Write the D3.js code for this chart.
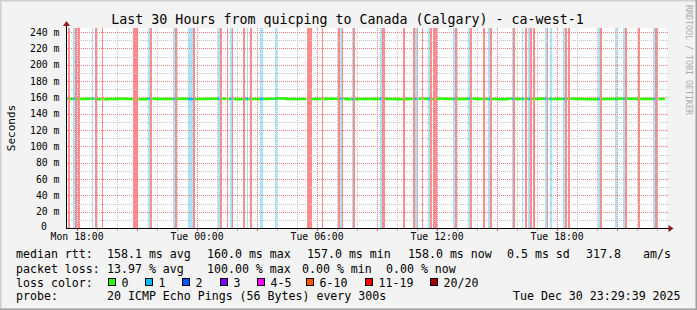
<!DOCTYPE html>
<html>
<head>
<meta charset="utf-8">
<script src="https://cdn.jsdelivr.net/npm/d3@7"></script>
<style>
  body { margin: 0; background: #f3f3f3; }
  svg { display: block; }
  text { font-family: "DejaVu Sans Mono", monospace; fill: #000; }
</style>
</head>
<body>
<svg id="chart" width="697" height="310"></svg>
<script>
// graph window, 5 minute steps
const startTime = "Mon 17:29:39";
const endTime = "Tue 23:29:39";
const firstStep = "Mon 17:30";
const stepMinutes = 5;

// loss bars: start of step, number of steps, packets lost (of 20)
const lossAt = [
  "Mon 17:35", "Mon 17:50", "Mon 17:55", "Mon 18:05", "Mon 18:45", "Mon 18:55", "Mon 19:15",
  "Mon 20:50", "Mon 21:35", "Mon 21:40", "Mon 22:50", "Mon 22:55", "Mon 23:35", "Mon 23:50",
  "Tue 01:05", "Tue 01:10", "Tue 01:30", "Tue 01:40", "Tue 01:45", "Tue 02:20", "Tue 02:30",
  "Tue 02:40", "Tue 03:10", "Tue 03:55", "Tue 05:30", "Tue 06:15", "Tue 07:05", "Tue 07:10",
  "Tue 07:15", "Tue 07:45", "Tue 07:50", "Tue 09:10", "Tue 09:15", "Tue 10:20", "Tue 10:50",
  "Tue 10:55", "Tue 11:00", "Tue 11:15", "Tue 11:35", "Tue 11:40", "Tue 11:50", "Tue 12:50",
  "Tue 12:55", "Tue 13:35", "Tue 13:40", "Tue 14:20", "Tue 14:35", "Tue 14:40", "Tue 15:45",
  "Tue 15:50", "Tue 16:15", "Tue 16:25", "Tue 16:35", "Tue 16:40", "Tue 16:50", "Tue 17:25",
  "Tue 17:30", "Tue 17:40", "Tue 18:20", "Tue 18:25", "Tue 18:35", "Tue 20:05", "Tue 20:10",
  "Tue 20:55", "Tue 21:20", "Tue 21:25", "Tue 22:05", "Tue 22:50", "Tue 22:55", "Tue 23:00"
];
const lossSteps = [
  1, 1, 1, 1, 1, 1, 1,
  3, 1, 1, 1, 1, 3, 1,
  1, 1, 1, 1, 1, 1, 1,
  1, 2, 1, 3, 1, 1, 1,
  1, 1, 1, 1, 2, 1, 1,
  1, 1, 1, 1, 1, 2, 1,
  1, 1, 1, 1, 1, 1, 1,
  1, 1, 1, 1, 1, 1, 1,
  1, 1, 1, 1, 1, 1, 1,
  1, 1, 1, 1, 1, 1, 1
];
const lossPkts = [
  20, 1, 20, 20, 1, 20, 20,
  20, 1, 20, 1, 20, 1, 20,
  1, 20, 20, 1, 20, 20, 1,
  20, 1, 1, 20, 20, 20, 1,
  20, 1, 20, 1, 20, 20, 20,
  1, 20, 20, 1, 20, 20, 1,
  20, 1, 20, 20, 1, 20, 1,
  20, 1, 20, 1, 20, 20, 1,
  20, 1, 1, 20, 20, 1, 20,
  1, 1, 20, 20, 1, 20, 20
];

// median rtt per half hour (ms), from Mon 17:30
const medianMs = [
  158.2, 158.0, 158.4, 157.8, 158.1, 158.3, 158.0, 157.6, 158.2, 158.0,
  158.1, 158.3, 157.9, 158.0, 158.2, 158.4, 158.0, 157.7, 158.1, 158.0,
  158.2, 158.5, 158.0, 157.9, 158.1, 158.0, 158.3, 158.2, 157.8, 158.0,
  158.1, 158.2, 158.0, 157.6, 158.1, 158.3, 158.0, 158.2, 157.9, 158.0,
  158.4, 158.1, 158.0, 157.8, 158.2, 158.0, 158.1, 158.3, 157.9, 158.0,
  158.2, 158.0, 157.7, 158.1, 158.0, 158.2, 158.4, 158.0, 158.1, 158.0
];

const yMajor = [20, 40, 60, 80, 100, 120, 140, 160, 180, 200, 220, 240];
const yMinor = [10, 30, 50, 70, 90, 110, 130, 150, 170, 190, 210, 230];
const timeLabels = ["Mon 18:00", "Tue 00:00", "Tue 06:00", "Tue 12:00", "Tue 18:00"];

const lossClasses = ["0", "1", "2", "3", "4-5", "6-10", "11-19", "20/20"];
const lossColors = ["#26ff00", "#00b8ff", "#0059ff", "#7e00ff", "#ff00ff", "#ff5500", "#ff0000", "#a10000"];
const lossBg = { 1: "#a8e3f8", 20: "#ff8c8c" };

const legendRows = [
  ["median rtt:", "158.1 ms avg", "160.0 ms max", "157.0 ms min", "158.0 ms now", "0.5 ms sd", "317.8", "am/s"],
  ["packet loss:", "13.97 % avg", "100.00 % max", "0.00 % min", "0.00 % now"],
  ["probe:", "20 ICMP Echo Pings (56 Bytes) every 300s", "Tue Dec 30 23:29:39 2025"]
];

// parse "Mon 17:35" style times (Mon = Dec 29 2025)
const days = { Mon: "2025-12-29", Tue: "2025-12-30" };
const parseT = s => {
  const [d, hm] = s.split(" ");
  return new Date(days[d] + "T" + (hm.length === 5 ? hm + ":00" : hm));
};
const addMin = (t, m) => new Date(+t + m * 60000);

const svg = d3.select("#chart");
const W = 697, H = 310;

// frame
svg.append("rect").attr("width", W).attr("height", H).attr("fill", "#f3f3f3");
svg.append("path").attr("d", `M0,${H} V0 H${W}`).attr("fill", "none").attr("stroke", "#cfcfcf").attr("stroke-width", 3);
svg.append("path").attr("d", `M0,${H} H${W} V0`).attr("fill", "none").attr("stroke", "#9e9e9e").attr("stroke-width", 3);

const pTop = 28, pBottom = 228, pLeft = 66.5, pRight = 666.5;
const x = d3.scaleTime().domain([parseT(startTime), parseT(endTime)]).range([pLeft, pRight]);
const y = d3.scaleLinear().domain([0, 245]).range([pBottom, pTop]);

svg.append("rect").attr("x", pLeft).attr("y", pTop).attr("width", pRight - pLeft).attr("height", pBottom - pTop).attr("fill", "#fff");

// loss background bars
const bars = lossAt.map((s, i) => ({ t: parseT(s), n: lossSteps[i], loss: lossPkts[i] }));
svg.append("g").attr("shape-rendering", "crispEdges")
  .selectAll("rect").data(bars).join("rect")
  .attr("x", d => x(d.t))
  .attr("width", d => x(addMin(d.t, d.n * stepMinutes)) - x(d.t))
  .attr("y", pTop).attr("height", pBottom - pTop)
  .attr("fill", d => lossBg[d.loss]);

// grid
const grid = svg.append("g").attr("shape-rendering", "crispEdges").attr("fill", "none").attr("stroke-dasharray", "1,1");
const hours = d3.timeHour.range(parseT(startTime), parseT(endTime));
const minorT = hours.filter(h => h.getHours() % 3 !== 0);
const majorT = hours.filter(h => h.getHours() % 3 === 0);
grid.selectAll(".vmin").data(minorT).join("line")
  .attr("x1", d => Math.round(x(d)) + 0.5).attr("x2", d => Math.round(x(d)) + 0.5)
  .attr("y1", pTop).attr("y2", pBottom).attr("stroke", "#c4c4c4");
grid.selectAll(".hmin").data(yMinor).join("line")
  .attr("x1", pLeft).attr("x2", pRight + 1)
  .attr("y1", d => Math.round(y(d)) + 0.5).attr("y2", d => Math.round(y(d)) + 0.5).attr("stroke", "#c4c4c4");
grid.selectAll(".vmaj").data(majorT).join("line")
  .attr("x1", d => Math.round(x(d)) + 0.5).attr("x2", d => Math.round(x(d)) + 0.5)
  .attr("y1", pTop).attr("y2", pBottom).attr("stroke", "#e88080");
grid.selectAll(".hmaj").data(yMajor).join("line")
  .attr("x1", pLeft).attr("x2", pRight + 1)
  .attr("y1", d => Math.round(y(d)) + 0.5).attr("y2", d => Math.round(y(d)) + 0.5).attr("stroke", "#e88080");

// median line, coloured by loss, gap where all packets lost
const lossByStep = new Map();
bars.forEach(b => { for (let j = 0; j < b.n; j++) lossByStep.set(+addMin(b.t, j * stepMinutes), b.loss); });
const t0 = parseT(firstStep);
const steps = d3.range(medianMs.length * 6).map(k => {
  const t = addMin(t0, k * stepMinutes);
  const loss = lossByStep.get(+t) || 0;
  return { t, t1: addMin(t, stepMinutes), v: medianMs[Math.floor(k / 6)], loss };
}).filter(d => d.t1 <= parseT(endTime));

const colorFor = loss => loss === 0 ? lossColors[0] : loss === 1 ? lossColors[1] : null;
const runs = [];
steps.forEach(d => {
  const c = colorFor(d.loss);
  const last = runs[runs.length - 1];
  if (!c) { runs.push({ c: null, pts: [] }); return; }
  if (last && last.c === c) last.pts.push(d);
  else {
    const prev = last && last.c ? last.pts[last.pts.length - 1] : null;
    runs.push({ c, pts: prev ? [prev, d] : [d], join: !!prev });
  }
});
const line = d3.line();
svg.append("g").attr("fill", "none").attr("stroke-width", 2.5)
  .selectAll("path").data(runs.filter(r => r.c)).join("path")
  .attr("stroke", r => r.c)
  .attr("d", r => {
    const pts = [];
    r.pts.forEach((d, i) => {
      if (r.join && i === 0) { pts.push([x(d.t1), y(d.v)]); return; }
      pts.push([x(d.t), y(d.v)], [x(d.t1), y(d.v)]);
    });
    return line(pts);
  });

// axes
svg.append("line").attr("x1", pLeft - 0.5).attr("x2", pRight + 2).attr("y1", pBottom + 0.5).attr("y2", pBottom + 0.5)
  .attr("stroke", "#000").attr("shape-rendering", "crispEdges");
svg.append("line").attr("x1", pLeft).attr("x2", pLeft).attr("y1", pBottom + 1).attr("y2", pTop - 3)
  .attr("stroke", "#000").attr("shape-rendering", "crispEdges");
svg.append("path").attr("d", `M${pRight + 2},${pBottom - 3} L${pRight + 7},${pBottom + 0.5} L${pRight + 2},${pBottom + 4} Z`).attr("fill", "#8b1c1c");
svg.append("path").attr("d", `M${pLeft - 3.5},${pTop - 2} L${pLeft},${pTop - 7} L${pLeft + 3.5},${pTop - 2} Z`).attr("fill", "#8b1c1c");

// small ticks on the axes
const ticks = svg.append("g").attr("shape-rendering", "crispEdges");
ticks.selectAll(".tmin").data(minorT).join("line")
  .attr("x1", d => Math.round(x(d)) + 0.5).attr("x2", d => Math.round(x(d)) + 0.5)
  .attr("y1", pBottom + 1).attr("y2", pBottom + 3).attr("stroke", "#b0b0b0");
ticks.selectAll(".tmaj").data(majorT).join("line")
  .attr("x1", d => Math.round(x(d)) + 0.5).attr("x2", d => Math.round(x(d)) + 0.5)
  .attr("y1", pBottom + 1).attr("y2", pBottom + 3).attr("stroke", "#e06060");

const xAxis = svg.append("g").attr("transform", `translate(0,${pBottom})`)
  .call(d3.axisBottom(x).tickValues(timeLabels.map(parseT)).tickFormat(d3.timeFormat("%a %H:%M")).tickSize(0).tickPadding(5.5));
const yAxis = svg.append("g").attr("transform", `translate(${pLeft},0)`)
  .call(d3.axisLeft(y).tickValues([0].concat(yMajor)).tickFormat(d => d === 0 ? "0" : d + " m").tickSize(0).tickPadding(7));
[xAxis, yAxis].forEach(a => {
  a.select(".domain").remove();
  a.selectAll("text").attr("font-family", "DejaVu Sans Mono").attr("font-size", "9.8px").attr("fill", "#000");
});
// the zero label lines up with the digits, not with the unit
yAxis.selectAll(".tick text").filter(d => d === 0).attr("x", -19.5).attr("dy", "0.2em");

// titles
svg.append("text").attr("x", 347.5).attr("y", 24).attr("text-anchor", "middle").attr("font-size", "13.3px")
  .text("Last 30 Hours from quicping to Canada (Calgary) - ca-west-1");
svg.append("text").attr("transform", "translate(15,128) rotate(-90)").attr("text-anchor", "middle").attr("font-size", "11px")
  .text("Seconds");
svg.append("text").attr("transform", "translate(686,5) rotate(90)").attr("font-size", "8.3px").style("fill", "#aaa")
  .text("RRDTOOL / TOBI OETIKER");

// legend
const legX = [
  [16, 107, 207, 307, 408, 507, 586, 643],
  [16, 107, 207, 302, 386],
  [16, 107, 513]
];
const legY = [258, 272.5, 300];
const leg = svg.append("g").attr("font-size", "11.6px");
legendRows.forEach((row, r) => {
  row.forEach((s, i) => leg.append("text").attr("x", legX[r][i]).attr("y", legY[r]).text(s));
});
leg.append("text").attr("x", 16).attr("y", 286.5).text("loss color:");
const swX = [108.5, 145.5, 182.5, 220.5, 257.5, 306.5, 365.5, 430.5];
const sw = leg.selectAll(".sw").data(lossClasses).join("g");
sw.append("rect").attr("x", (d, i) => swX[i]).attr("y", 278.5).attr("width", 7).attr("height", 7)
  .attr("fill", (d, i) => lossColors[i]).attr("stroke", "#000").attr("shape-rendering", "crispEdges");
sw.append("text").attr("x", (d, i) => swX[i] + 13).attr("y", 286.5).text(d => d);
</script>
</body>
</html>
